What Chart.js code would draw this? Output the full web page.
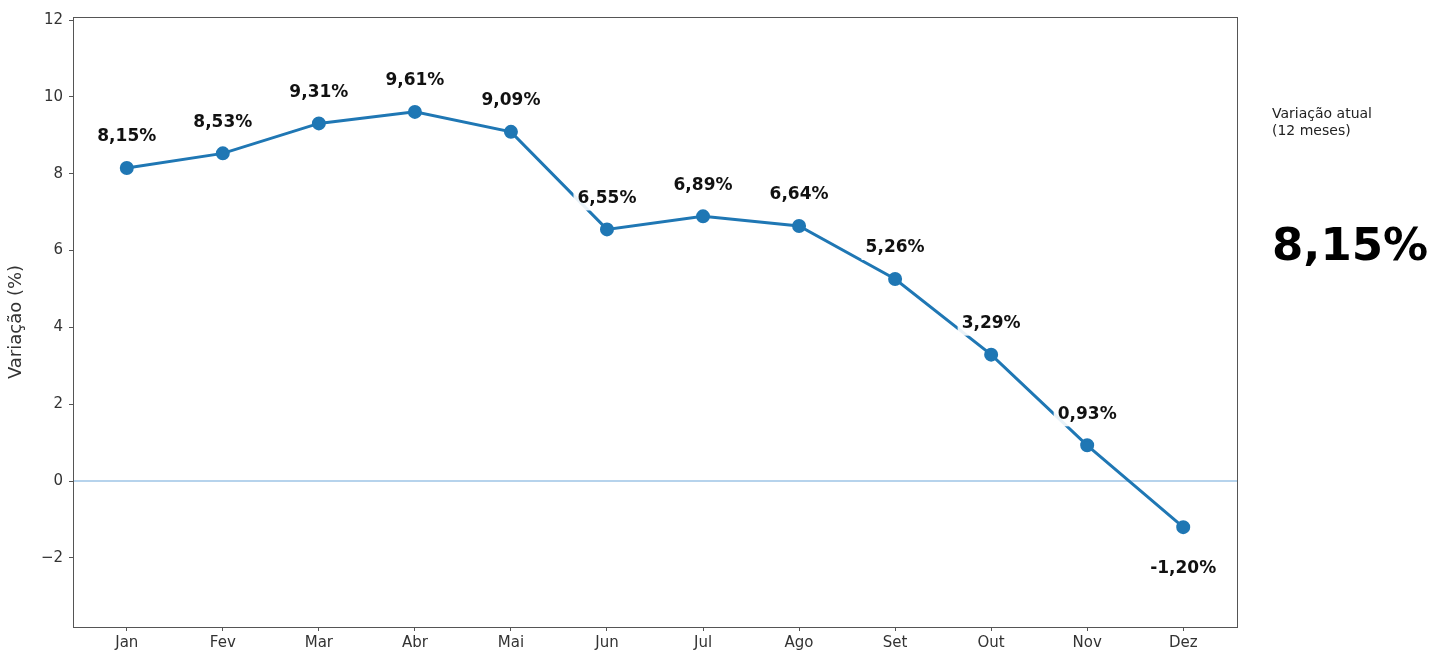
<!DOCTYPE html>
<html>
<head>
<meta charset="utf-8">
<script src="https://cdn.jsdelivr.net/npm/chart.js@4"></script>
<style>
    html, body { margin: 0; padding: 0; background: #fff; }
    #wrap { position: relative; width: 1435px; height: 656px; }
    #side { position: absolute; left: 1272px; top: 105px; font-family: "DejaVu Sans", sans-serif; color: #222; }
    #side .sub { font-size: 14px; line-height: 17px; }
    #side .big { font-size: 45px; font-weight: bold; margin-top: 79px; color: #000; }
</style>
</head>
<body>
<div id="wrap">
    <canvas id="chart-line" width="1435" height="656"></canvas>
    <div id="side">
        <div class="sub">Variação atual<br>(12 meses)</div>
        <div class="big">8,15%</div>
    </div>
</div>
<script>
const months = ['Jan', 'Fev', 'Mar', 'Abr', 'Mai', 'Jun', 'Jul', 'Ago', 'Set', 'Out', 'Nov', 'Dez'];
const variacao = [8.15, 8.53, 9.31, 9.61, 9.09, 6.55, 6.89, 6.64, 5.26, 3.29, 0.93, -1.20];
const yTicks = [-2, 0, 2, 4, 6, 8, 10, 12];

const fmt = v => v.toFixed(2).replace('.', ',') + '%';

// caixa em volta da area do grafico + linha do zero
const framePlugin = {
    id: 'frame',
    beforeDatasetsDraw(chart) {
        const { ctx, chartArea: a, scales } = chart;
        const y0 = scales.y.getPixelForValue(0);
        ctx.save();
        ctx.strokeStyle = '#9ec5e6';
        ctx.lineWidth = 1.5;
        ctx.beginPath();
        ctx.moveTo(a.left, y0);
        ctx.lineTo(a.right, y0);
        ctx.stroke();
        ctx.restore();
    },
    afterDraw(chart) {
        const { ctx, chartArea: a } = chart;
        ctx.save();
        ctx.strokeStyle = '#555';
        ctx.lineWidth = 1;
        ctx.strokeRect(a.left + 0.5, a.top + 0.5, a.right - a.left, a.bottom - a.top);
        ctx.restore();
    },
};

// rotulos dos pontos com fundo branco
const labelsPlugin = {
    id: 'pointLabels',
    afterDatasetsDraw(chart) {
        const { ctx } = chart;
        const meta = chart.getDatasetMeta(0);
        ctx.save();
        ctx.font = 'bold 17px "DejaVu Sans"';
        ctx.textAlign = 'center';
        ctx.textBaseline = 'middle';
        meta.data.forEach((pt, i) => {
            const v = variacao[i];
            const text = fmt(v);
            const y = v < 0 ? pt.y + 41 : pt.y - 31;
            const w = ctx.measureText(text).width;
            ctx.fillStyle = 'rgba(255,255,255,0.9)';
            ctx.fillRect(pt.x - w / 2 - 4, y - 12, w + 8, 24);
            ctx.fillStyle = '#111';
            ctx.fillText(text, pt.x, y);
        });
        ctx.restore();
    },
};

const tickFont = { family: '"DejaVu Sans"', size: 15 };

const ctx = document.getElementById('chart-line').getContext('2d');

new Chart(ctx, {
    type: 'line',
    data: {
        datasets: [{
            label: 'Variação',
            data: variacao.map((v, i) => ({ x: i, y: v })),
            borderColor: '#1f77b4',
            backgroundColor: '#1f77b4',
            borderWidth: 3,
            pointRadius: 5.5,
            pointHoverRadius: 5.5,
            tension: 0,
        }],
    },
    options: {
        responsive: false,
        animation: false,
        layout: { padding: { top: 17, right: 198, left: 0, bottom: 0 } },
        plugins: {
            legend: { display: false },
            tooltip: { enabled: false },
        },
        scales: {
            x: {
                type: 'linear',
                min: -0.56,
                max: 11.56,
                afterBuildTicks: scale => { scale.ticks = months.map((_, i) => ({ value: i })); },
                afterFit: scale => { scale.height = 29; },
                ticks: {
                    callback: v => months[v],
                    color: '#333',
                    font: tickFont,
                    padding: 3,
                    autoSkip: false,
                    maxRotation: 0,
                },
                grid: { drawOnChartArea: false, tickLength: 4, color: '#555' },
                border: { color: '#555' },
            },
            y: {
                min: -3.8,
                max: 12.08,
                afterBuildTicks: scale => { scale.ticks = yTicks.map(v => ({ value: v })); },
                afterFit: scale => { scale.width = 73; },
                ticks: {
                    callback: v => (v < 0 ? '\u2212' + Math.abs(v) : String(v)),
                    color: '#333',
                    font: tickFont,
                    padding: 6,
                },
                grid: { drawOnChartArea: false, tickLength: 4, color: '#555' },
                border: { color: '#555' },
                title: {
                    display: true,
                    text: 'Variação (%)',
                    color: '#333',
                    font: { family: '"DejaVu Sans"', size: 18 },
                    padding: { top: 6, bottom: 2 },
                },
            },
        },
    },
    plugins: [framePlugin, labelsPlugin],
});
</script>
</body>
</html>
